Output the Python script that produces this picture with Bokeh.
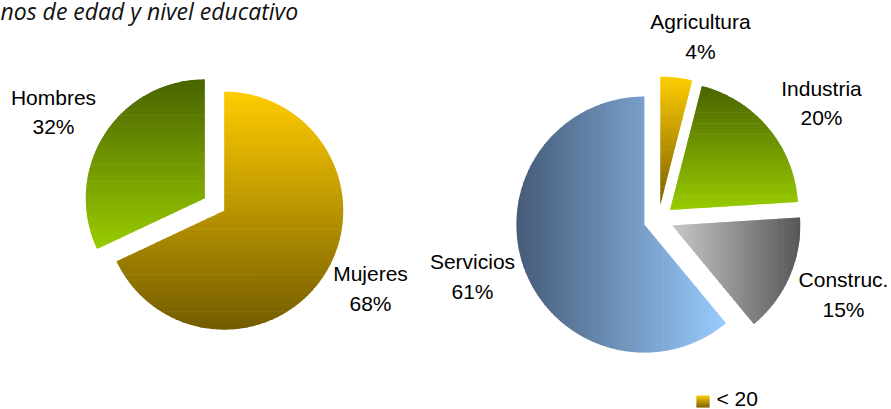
import numpy as np
from bokeh.plotting import figure
from bokeh.models import Range1d
from bokeh.embed import file_html
from bokeh.resources import INLINE
from bokeh.core.properties import value

# ---------------- data ----------------
title_text = "nos de edad y nivel educativo"
sexo_labels = ["Mujeres", "Hombres"]
sexo_values = [68, 32]
sector_labels = ["Agricultura", "Industria", "Construc.", "Servicios"]
sector_values = [4, 20, 15, 61]
legend_labels = ["< 20"]

# ---------------- layout / style ----------------
W, H = 891, 409
X0, Y0 = 0, 0
FONT = "Liberation Sans"
FS = "21px"
TXT_DY = -8   # compensate baseline placement of svg text

left_pie = dict(cx=214, cy=204, r=119, explode=[11.5, 11.5])
right_pie = dict(cx=658, cy=219, r=128, explode=[15, 15, 15, 15])

sexo_grad = [("v", "#FFCC00", "#735C00"), ("v", "#4A6300", "#99CC00")]
sector_grad = [("v", "#FFCC00", "#7A6000"), ("v", "#4A6300", "#99CC00"),
               ("h", "#C8C8C8", "#575757"), ("h", "#465B78", "#99CCFF")]

# label anchors: x, baseline of name, baseline of percentage
sexo_label_pos = [(370, 281, 311), (53, 105, 134)]
sector_label_pos = [(700, 29, 59), (821, 96, 125), (843, 287, 317), (472, 269, 299)]


def hex2rgb(h):
    h = h.lstrip("#")
    return np.array([int(h[i:i + 2], 16) for i in (0, 2, 4)], dtype=float)


def mix(c0, c1, t):
    a, b = hex2rgb(c0), hex2rgb(c1)
    c = a + (b - a) * t
    return "#%02x%02x%02x" % tuple(int(round(v)) for v in c)


def clip_half(poly, axis, val, keep_greater):
    out = []
    n = len(poly)
    for i in range(n):
        P, Q = poly[i], poly[(i + 1) % n]
        inP = P[axis] >= val if keep_greater else P[axis] <= val
        inQ = Q[axis] >= val if keep_greater else Q[axis] <= val
        if inP:
            out.append(P)
        if inP != inQ:
            t = (val - P[axis]) / (Q[axis] - P[axis])
            out.append((P[0] + t * (Q[0] - P[0]), P[1] + t * (Q[1] - P[1])))
    return out


def gradient_strips(poly, direction, c0, c1, n=90):
    axis = 1 if direction == "v" else 0
    vals = [p[axis] for p in poly]
    lo, hi = min(vals), max(vals)
    step = (hi - lo) / n
    xs, ys, cols = [], [], []
    for k in range(n):
        a = lo + k * step
        b = a + step + 0.7
        part = clip_half(poly, axis, a, True)
        part = clip_half(part, axis, b, False) if part else []
        if len(part) < 3:
            continue
        xs.append([q[0] for q in part])
        ys.append([q[1] for q in part])
        cols.append(mix(c0, c1, (k + 0.5) / n))
    return xs, ys, cols


def pie_slices(values, cx, cy, r, explode):
    total = float(sum(values))
    start = 90.0
    polys = []
    for v, e in zip(values, explode):
        sweep = 360.0 * v / total
        a0, a1 = start, start - sweep
        mid = np.radians((a0 + a1) / 2)
        ax, ay = cx + e * np.cos(mid), cy - e * np.sin(mid)
        angs = np.radians(np.linspace(a0, a1, max(8, int(sweep * 2))))
        pts = [(ax, ay)] + [(ax + r * np.cos(t), ay - r * np.sin(t)) for t in angs]
        polys.append(pts)
        start = a1
    return polys


p = figure(width=W, height=H, output_backend="svg", toolbar_location=None,
           x_range=Range1d(X0, X0 + W), y_range=Range1d(Y0 + H, Y0),
           min_border=0)
p.axis.visible = False
p.grid.visible = False
p.outline_line_color = None
p.background_fill_color = "white"

all_xs, all_ys, all_cols = [], [], []
for polys, grads in ((pie_slices(sexo_values, **left_pie), sexo_grad),
                     (pie_slices(sector_values, **right_pie), sector_grad)):
    for poly, (d, c0, c1) in zip(polys, grads):
        xs, ys, cs = gradient_strips(poly, d, c0, c1)
        all_xs += xs
        all_ys += ys
        all_cols += cs

# legend swatch
sw = [(696, 395), (709, 395), (709, 407), (696, 407)]
xs, ys, cs = gradient_strips(sw, "v", "#FFCC00", "#7A6000", n=12)
all_xs += xs
all_ys += ys
all_cols += cs

p.patches(all_xs, all_ys, fill_color=all_cols, line_color=None)

# labels
total_s = sum(sexo_values)
total_e = sum(sector_values)
lx, ly, lt = [], [], []
for lab, v, (x, y1, y2) in zip(sexo_labels, sexo_values, sexo_label_pos):
    lx += [x, x]
    ly += [y1 + TXT_DY, y2 + TXT_DY]
    lt += [lab, "%d%%" % round(100 * v / total_s)]
for lab, v, (x, y1, y2) in zip(sector_labels, sector_values, sector_label_pos):
    lx += [x, x]
    ly += [y1 + TXT_DY, y2 + TXT_DY]
    lt += [lab, "%d%%" % round(100 * v / total_e)]

p.text(x=lx, y=ly, text=lt, text_align="center", text_baseline="alphabetic",
       text_font=value(FONT), text_font_size=FS, text_color="#000000")

p.text(x=[716], y=[406 + TXT_DY], text=legend_labels, text_align="left",
       text_baseline="alphabetic", text_font=value(FONT), text_font_size=FS,
       text_color="#000000")

p.text(x=[0], y=[18 + TXT_DY], text=[title_text], text_align="left",
       text_baseline="alphabetic", text_font=value("Open Sans"),
       text_font_style="italic", text_font_size="23px", text_color="#111111")

open("out.html", "w").write(file_html(p, INLINE))
